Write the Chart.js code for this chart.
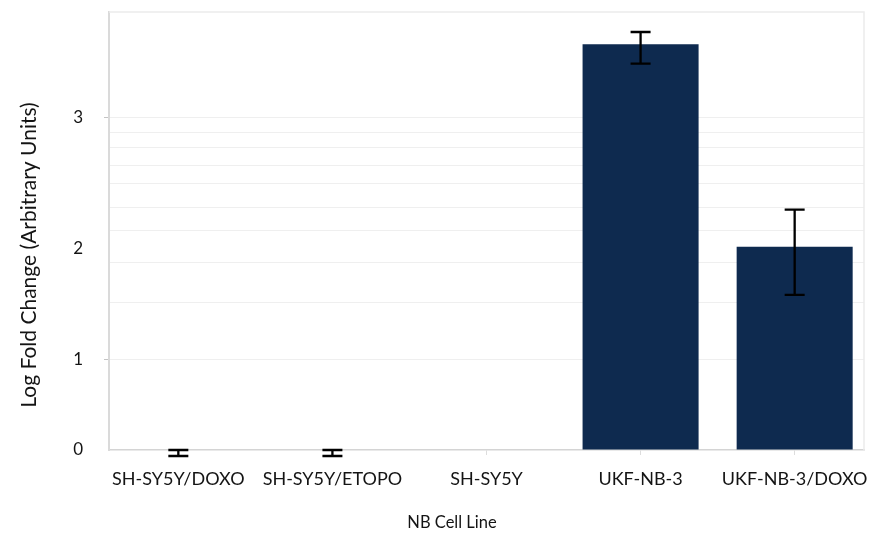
<!DOCTYPE html>
<html>
<head>
<meta charset="utf-8">
<script src="https://cdn.jsdelivr.net/npm/chart.js@4.4.1/dist/chart.umd.min.js"></script>
<style>
  html, body { margin: 0; padding: 0; background: #ffffff; }
  #wrap { width: 876px; height: 536px; }
</style>
</head>
<body>
<div id="wrap"><canvas id="chart" width="876" height="536"></canvas></div>
<script>
// Cell lines along the x axis
const cellLines = ['SH-SY5Y/DOXO', 'SH-SY5Y/ETOPO', 'SH-SY5Y', 'UKF-NB-3', 'UKF-NB-3/DOXO'];
// Mean log fold change for each cell line
const foldChange = [0.005, 0, 0, 3.50, 2.01];
// Lower and upper ends of each error bar (null = none drawn)
const errorLow  = [-0.075, -0.075, null, 3.37, 1.60];
const errorHigh = [0.0, 0.0, null, 3.58, 2.31];
// Labelled y ticks, and the values where horizontal grid lines sit
const yTickValues = [0, 1, 2, 3];
const yGridValues = [1, 1.53, 1.88, 2.14, 2.33, 2.51, 2.65, 2.78, 2.89, 3];
const yMax = 3.71;

// Value axis whose spacing widens toward the top
const WARP = 0.1235;
const warp = v => v * (1 + WARP * v);
const unwarp = c => (-1 + Math.sqrt(1 + 4 * WARP * c)) / (2 * WARP);

class WarpedScale extends Chart.LinearScale {
  getPixelForValue(value) {
    if (value === null || value === undefined || isNaN(value)) return NaN;
    const lo = warp(this.min), hi = warp(this.max);
    return this.getPixelForDecimal((warp(value) - lo) / (hi - lo));
  }
  getValueForPixel(pixel) {
    const lo = warp(this.min), hi = warp(this.max);
    return unwarp(lo + this.getDecimalForPixel(pixel) * (hi - lo));
  }
}
WarpedScale.id = 'warped';
WarpedScale.defaults = Chart.LinearScale.defaults;
Chart.register(WarpedScale);

const FONT = 'Lato, "Open Sans", sans-serif';

// Error bars with caps
const errorBars = {
  id: 'errorBars',
  afterDatasetsDraw(chart) {
    const ctx = chart.ctx, yScale = chart.scales.y;
    const meta = chart.getDatasetMeta(0);
    ctx.save();
    ctx.strokeStyle = '#000000';
    ctx.lineWidth = 2.3;
    meta.data.forEach((bar, i) => {
      if (errorLow[i] === null) return;
      const yl = yScale.getPixelForValue(errorLow[i]);
      const yh = yScale.getPixelForValue(errorHigh[i]);
      const x = bar.x, half = 10;
      ctx.beginPath();
      ctx.moveTo(x, yl); ctx.lineTo(x, yh);
      ctx.moveTo(x - half, yl); ctx.lineTo(x + half, yl);
      ctx.moveTo(x - half, yh); ctx.lineTo(x + half, yh);
      ctx.stroke();
    });
    ctx.restore();
  }
};

// Light frame along the top and right of the plot area
const plotFrame = {
  id: 'plotFrame',
  beforeDatasetsDraw(chart) {
    const { ctx, chartArea: a } = chart;
    ctx.save();
    ctx.strokeStyle = '#ececec';
    ctx.lineWidth = 1.5;
    ctx.beginPath();
    ctx.moveTo(a.left, a.top); ctx.lineTo(a.right, a.top); ctx.lineTo(a.right, a.bottom);
    ctx.stroke();
    ctx.restore();
  }
};

// Axis titles
const axisTitles = {
  id: 'axisTitles',
  afterDraw(chart) {
    const ctx = chart.ctx;
    ctx.save();
    ctx.fillStyle = '#141414';
    ctx.textAlign = 'center';
    ctx.textBaseline = 'middle';
    ctx.font = '16.5px ' + FONT;
    ctx.fillText('NB Cell Line', 452, 523);
    ctx.translate(29, 255);
    ctx.rotate(-Math.PI / 2);
    ctx.font = '21px ' + FONT;
    ctx.fillText('Log Fold Change (Arbitrary Units)', 0, 0);
    ctx.restore();
  }
};

new Chart(document.getElementById('chart'), {
  type: 'bar',
  data: {
    datasets: [{
      data: cellLines.map((_, i) => ({ x: i, y: foldChange[i] })),
      backgroundColor: '#0e2a4f',
      borderWidth: 0,
      categoryPercentage: 1,
      barPercentage: 0.753
    }]
  },
  options: {
    responsive: false,
    animation: false,
    events: [],
    layout: { padding: { left: 0, right: 12, top: 12, bottom: 0 } },
    plugins: { legend: { display: false }, tooltip: { enabled: false } },
    scales: {
      x: {
        type: 'linear',
        offset: false,
        min: -0.45,
        max: 4.45,
        afterBuildTicks: s => { s.ticks = cellLines.map((_, i) => ({ value: i })); },
        afterFit: s => { s.height = 86; s.paddingLeft = 0; s.paddingRight = 0; },
        grid: { offset: false, drawOnChartArea: false, tickLength: 5, tickColor: '#dddddd' },
        border: { color: '#d4d4d4', width: 1.5 },
        ticks: {
          autoSkip: false,
          maxRotation: 0,
          padding: 13,
          color: '#141414',
          font: { family: FONT, size: 18 },
          callback: v => cellLines[v]
        }
      },
      y: {
        type: 'warped',
        min: 0,
        max: yMax,
        afterBuildTicks: s => {
          s.ticks = [...new Set([...yTickValues, ...yGridValues])]
            .sort((a, b) => a - b)
            .map(v => ({ value: v }));
        },
        afterFit: s => { s.width = 109; s.paddingTop = 0; s.paddingBottom = 0; },
        grid: {
          tickLength: 5,
          lineWidth: 1,
          color: c => yGridValues.includes(c.tick && c.tick.value) ? '#efefef' : 'rgba(0,0,0,0)',
          tickColor: c => (c.tick && yTickValues.includes(c.tick.value) && yGridValues.includes(c.tick.value)) ? '#c4c4c4' : 'rgba(0,0,0,0)'
        },
        border: { color: '#dadada', width: 2 },
        ticks: {
          autoSkip: false,
          padding: 21,
          color: '#141414',
          font: { family: FONT, size: 17 },
          callback: v => yTickValues.includes(v) ? String(v) : ''
        }
      }
    }
  },
  plugins: [errorBars, plotFrame, axisTitles]
});
</script>
</body>
</html>
